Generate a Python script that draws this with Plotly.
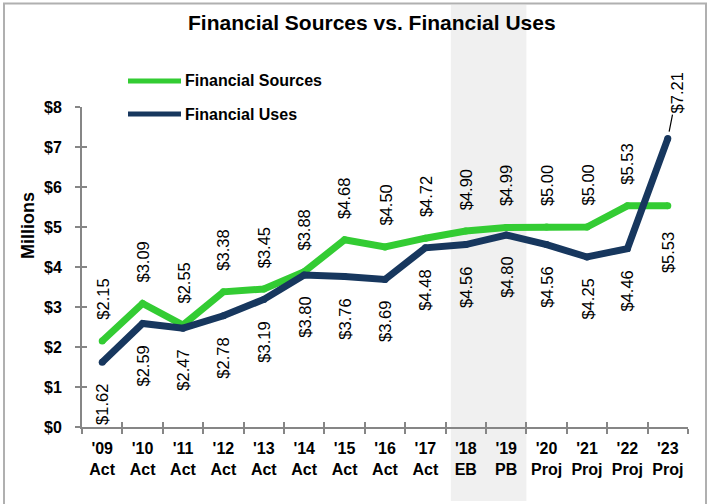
import plotly.graph_objects as go

# ---- data -------------------------------------------------------------
years = ["'09", "'10", "'11", "'12", "'13", "'14", "'15", "'16", "'17",
         "'18", "'19", "'20", "'21", "'22", "'23"]
stages = ["Act"] * 9 + ["EB", "PB"] + ["Proj"] * 4
sources = [2.15, 3.09, 2.55, 3.38, 3.45, 3.88, 4.68, 4.50, 4.72,
           4.90, 4.99, 5.00, 5.00, 5.53, 5.53]
uses = [1.62, 2.59, 2.47, 2.78, 3.19, 3.80, 3.76, 3.69, 4.48,
        4.56, 4.80, 4.56, 4.25, 4.46, 7.21]
y_tick_vals = [0, 1, 2, 3, 4, 5, 6, 7, 8]
y_tick_text = ["$" + str(v) for v in y_tick_vals]
budget_years = ["'18", "'19"]

categories = [f"{y}<br>{s}" for y, s in zip(years, stages)]

# ---- styling ----------------------------------------------------------
GREEN = "#33cc33"
NAVY = "#17375e"
AXIS = "#868686"
FONT = "Liberation Sans"
W, H = 707, 504
M_L, M_R, M_T, M_B = 82, 19, 107, 77
PW, PH = W - M_L - M_R, H - M_T - M_B


def px_x(p):
    """pixel column -> paper x"""
    return (p - M_L) / PW


def px_y(p):
    """pixel row -> paper y"""
    return (H - M_B - p) / PH


fig = go.Figure()

fig.add_trace(go.Scatter(
    x=categories, y=sources, mode="lines+markers", name="Financial Sources",
    line=dict(color=GREEN, width=7), marker=dict(color=GREEN, size=7),
    hoverinfo="skip", cliponaxis=False))
fig.add_trace(go.Scatter(
    x=categories, y=uses, mode="lines+markers", name="Financial Uses",
    line=dict(color=NAVY, width=7), marker=dict(color=NAVY, size=7),
    hoverinfo="skip", cliponaxis=False))

# helper trace so the overlay axes (inner half of the tick marks) render
n = len(categories)
fig.add_trace(go.Scatter(x=[-0.5], y=[0], xaxis="x2", yaxis="y2",
                         mode="markers", marker=dict(opacity=0),
                         hoverinfo="skip", showlegend=False))

# ---- data labels --------------------------------------------------------
lab_font = dict(family=FONT, size=16.5, color="black")


def label_above(cat, val):
    fig.add_annotation(x=cat, y=val, xref="x", yref="y",
                       text=f"${val:.2f}", textangle=-90, showarrow=False,
                       yanchor="bottom", yshift=19, font=lab_font)


def label_below(cat, val, shift=-20):
    fig.add_annotation(x=cat, y=val, xref="x", yref="y",
                       text=f"${val:.2f}", textangle=-90, showarrow=False,
                       yanchor="top", yshift=shift, font=lab_font)


for i, cat in enumerate(categories):
    if i == n - 1:
        # final year: uses jumps above sources, so the labels swap sides
        label_below(cat, sources[i], shift=-24)
        fig.add_annotation(x=cat, y=uses[i], xref="x", yref="y",
                           text=f"${uses[i]:.2f}", textangle=-90,
                           showarrow=True, arrowhead=0, arrowwidth=1.2,
                           arrowcolor="black", ax=9, ay=-46, standoff=7,
                           font=lab_font)
    else:
        label_above(cat, sources[i])
        label_below(cat, uses[i])

# ---- budget-year band ----------------------------------------------------
first = years.index(budget_years[0])
last = years.index(budget_years[-1])
fig.add_shape(type="rect", layer="below",
              xref="x domain", yref="paper",
              x0=(first + 0.13) / n, x1=(last + 1) / n,
              y0=px_y(501), y1=px_y(5),
              fillcolor="#f0f0f0", line=dict(width=0))

# ---- outer frame ---------------------------------------------------------
fig.add_shape(type="rect", xref="paper", yref="paper",
              x0=px_x(4), x1=px_x(706), y0=px_y(515), y1=px_y(3.5),
              line=dict(color="#b0b0b0", width=2), fillcolor="rgba(0,0,0,0)")

# ---- legend --------------------------------------------------------------
for row, (label, color) in zip([81, 114], [("Financial Sources", GREEN),
                                          ("Financial Uses", NAVY)]):
    fig.add_shape(type="line", xref="paper", yref="paper",
                  x0=px_x(128), x1=px_x(181), y0=px_y(row), y1=px_y(row),
                  line=dict(color=color, width=5))
    fig.add_annotation(xref="paper", yref="paper", x=px_x(183), y=px_y(row),
                       text=label, showarrow=False, xanchor="left",
                       yanchor="middle",
                       font=dict(family=FONT, size=16, color="black",
                                 weight="bold"))

# ---- titles ------------------------------------------------------------
fig.add_annotation(xref="paper", yref="paper", x=px_x(372), y=px_y(22),
                   text="Financial Sources vs. Financial Uses",
                   showarrow=False, xanchor="center", yanchor="middle",
                   font=dict(family=FONT, size=21, color="black",
                             weight="bold"))
fig.add_annotation(xref="paper", yref="paper", x=px_x(28), y=px_y(226),
                   text="Millions", textangle=-90, showarrow=False,
                   xanchor="center", yanchor="middle",
                   font=dict(family=FONT, size=18, color="black",
                             weight="bold"))

tick_font = dict(family=FONT, size=16, color="black", weight="bold")
fig.update_layout(
    width=W, height=H,
    margin=dict(l=M_L, r=M_R, t=M_T, b=M_B, pad=0),
    paper_bgcolor="white", plot_bgcolor="rgba(0,0,0,0)",
    showlegend=False,
    xaxis=dict(type="category", categoryorder="array",
               categoryarray=categories, range=[-0.5, n - 0.5],
               tickson="boundaries", ticks="outside", ticklen=5,
               tickwidth=2, tickcolor=AXIS, showline=True, linecolor=AXIS,
               linewidth=2, showgrid=False, zeroline=False, tickangle=0,
               tickfont=tick_font, ticklabelstandoff=6),
    yaxis=dict(range=[0, 8], tickvals=y_tick_vals, ticktext=y_tick_text,
               ticks="outside", ticklen=5, tickwidth=2, tickcolor=AXIS,
               showline=True, linecolor=AXIS, linewidth=2, showgrid=False,
               zeroline=False, tickfont=tick_font, ticklabelstandoff=10),
    xaxis2=dict(overlaying="x", anchor="y", range=[-0.5, n - 0.5],
                tickvals=[i - 0.5 for i in range(n + 1)], ticks="inside",
                ticklen=5, tickwidth=2, tickcolor=AXIS,
                showticklabels=False, showline=False, showgrid=False,
                zeroline=False),
    yaxis2=dict(overlaying="y", anchor="x", side="left", range=[0, 8],
                tickvals=y_tick_vals, ticks="inside", ticklen=5, tickwidth=2,
                tickcolor=AXIS, showticklabels=False, showline=False,
                showgrid=False, zeroline=False),
)

fig.write_html("out.html")
